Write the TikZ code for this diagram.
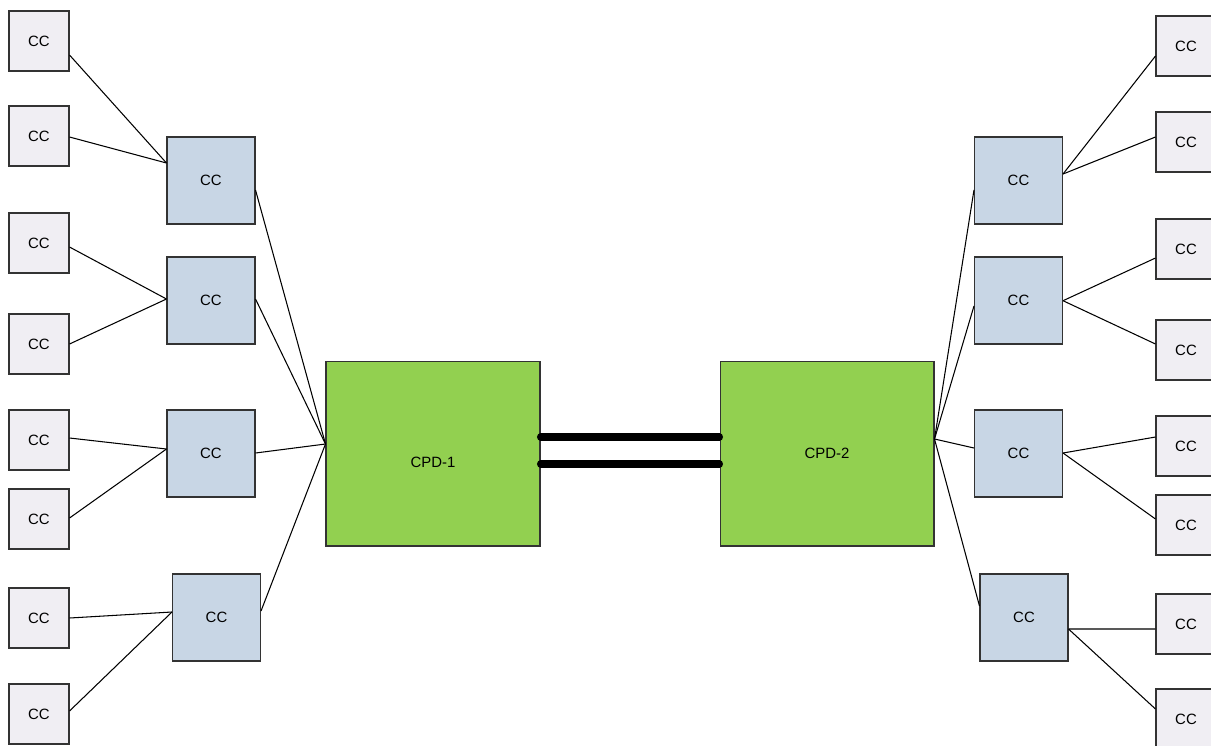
\documentclass[tikz,border=0pt]{standalone}
\usepackage{fontspec}
\setmainfont{Liberation Sans}
\usetikzlibrary{calc}
\definecolor{leafgray}{HTML}{F0EEF3}
\definecolor{ccblue}{HTML}{C8D6E5}
\definecolor{cpdgreen}{HTML}{92D050}
\definecolor{edgegray}{HTML}{333333}
\begin{document}
\begin{tikzpicture}[x=0.02cm,y=-0.02cm,
   font=\fontsize{8.5}{10}\selectfont,
   leaf/.style={draw=edgegray,fill=leafgray,line width=0.6pt,inner sep=0pt,
      minimum width=1.2cm,minimum height=1.2cm},
   cc/.style={draw=edgegray,fill=ccblue,line width=0.6pt,inner sep=0pt,
      minimum width=1.76cm,minimum height=1.74cm},
   cpd/.style={draw=edgegray,fill=cpdgreen,line width=0.6pt,inner sep=0pt,
      minimum width=4.28cm,minimum height=3.7cm},
   wire/.style={line width=0.6pt},
   trunk/.style={line width=4pt,line cap=round}]
   \useasboundingbox (0,0) rectangle (1211,745);
   % left leaves
   \node[leaf] (s1) at (39,41) {CC};
   \node[leaf] (s2) at (39,136) {CC};
   \node[leaf] (s3) at (39,243) {CC};
   \node[leaf] (s4) at (39,344) {CC};
   \node[leaf] (s5) at (39,440) {CC};
   \node[leaf] (s6) at (39,519) {CC};
   \node[leaf] (s7) at (39,618) {CC};
   \node[leaf] (s8) at (39,714) {CC};
   % left aggregation
   \node[cc] (m1) at (211,180.5) {CC};
   \node[cc] (m2) at (211,300.5) {CC};
   \node[cc] (m3) at (211,453.5) {CC};
   \node[cc] (m4) at (216.5,617.5) {CC};
   % core
   \node[cpd,label={[yshift=-4.8pt]center:CPD-1}] (c1) at (433,453.5) {};
   \node[cpd,label={center:CPD-2}] (c2) at (827,453.5) {};
   % right aggregation
   \node[cc] (m5) at (1018.5,180.5) {CC};
   \node[cc] (m6) at (1018.5,300.5) {CC};
   \node[cc] (m7) at (1018.5,453.5) {CC};
   \node[cc] (m8) at (1024,617.5) {CC};
   % right leaves
   \node[leaf] (r1) at (1186,46) {CC};
   \node[leaf] (r2) at (1186,142) {CC};
   \node[leaf] (r3) at (1186,249) {CC};
   \node[leaf] (r4) at (1186,350) {CC};
   \node[leaf] (r5) at (1186,446) {CC};
   \node[leaf] (r6) at (1186,525) {CC};
   \node[leaf] (r7) at (1186,624) {CC};
   \node[leaf] (r8) at (1186,719) {CC};

   \coordinate (p1) at ($(c1.west)+(0,-9.5)$);
   \coordinate (p2) at ($(c2.east)+(0,-14.5)$);

   \draw[wire] ($(s1.east)+(0,14)$) -- ($(m1.west)+(0,-17.5)$);
   \draw[wire] ($(s2.east)+(0,1)$) -- ($(m1.west)+(0,-17.5)$);
   \draw[wire] ($(s3.east)+(0,4)$) -- ($(m2.west)+(0,-1.5)$);
   \draw[wire] (s4.east) -- ($(m2.west)+(0,-1.5)$);
   \draw[wire] ($(s5.east)+(0,-2)$) -- ($(m3.west)+(0,-4.5)$);
   \draw[wire] ($(s6.east)+(0,-1)$) -- ($(m3.west)+(0,-4.5)$);
   \draw[wire] (s7.east) -- ($(m4.west)+(0,-5.5)$);
   \draw[wire] ($(s8.east)+(0,-3)$) -- ($(m4.west)+(0,-5.5)$);

   \draw[wire] ($(m1.east)+(0,9.5)$) -- (p1);
   \draw[wire] ($(m2.east)+(0,-1.5)$) -- (p1);
   \draw[wire] ($(m3.east)+(0,-0.5)$) -- (p1);
   \draw[wire] ($(m4.east)+(0,-6.5)$) -- (p1);

   \draw[trunk] ($(c1.east)+(0,-16.5)$) -- ($(c2.west)+(0,-16.5)$);
   \draw[trunk] ($(c1.east)+(0,10.5)$) -- ($(c2.west)+(0,10.5)$);

   \draw[wire] (p2) -- ($(m5.west)+(0,9.5)$);
   \draw[wire] (p2) -- ($(m6.west)+(0,5.5)$);
   \draw[wire] (p2) -- ($(m7.west)+(0,-5.5)$);
   \draw[wire] (p2) -- ($(m8.west)+(0,-11.5)$);

   \draw[wire] ($(m5.east)+(0,-6.5)$) -- ($(r1.west)+(0,10)$);
   \draw[wire] ($(m5.east)+(0,-6.5)$) -- ($(r2.west)+(0,-5)$);
   \draw[wire] ($(m6.east)+(0,0.2)$) -- ($(r3.west)+(0,9)$);
   \draw[wire] ($(m6.east)+(0,0.2)$) -- ($(r4.west)+(0,-6)$);
   \draw[wire] ($(m7.east)+(0,-0.5)$) -- ($(r5.west)+(0,-9)$);
   \draw[wire] ($(m7.east)+(0,-0.5)$) -- ($(r6.west)+(0,-6)$);
   \draw[wire] ($(m8.east)+(0,11.5)$) -- ($(r7.west)+(0,5)$);
   \draw[wire] ($(m8.east)+(0,11.5)$) -- ($(r8.west)+(0,-10)$);
\end{tikzpicture}
\end{document}
